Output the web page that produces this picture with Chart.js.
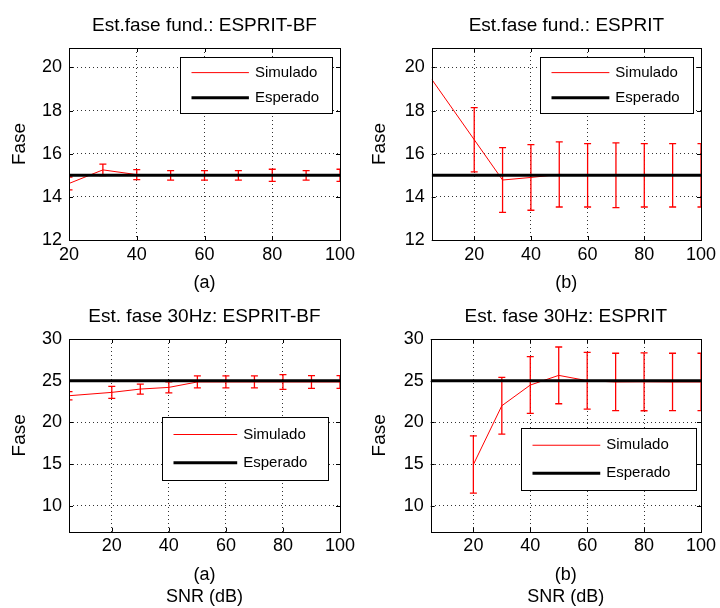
<!DOCTYPE html>
<html>
<head>
<meta charset="utf-8">
<script src="https://cdn.jsdelivr.net/npm/chart.js@4.4.0/dist/chart.umd.min.js"></script>
<style>
  html, body { margin: 0; padding: 0; background: #fff; }
  #fig { position: relative; width: 720px; height: 608px; }
  #fig canvas { position: absolute; }
</style>
</head>
<body>
<div id="fig">
  <canvas id="c1" width="360" height="300" style="left:0;top:0"></canvas>
  <canvas id="c2" width="360" height="300" style="left:360px;top:0"></canvas>
  <canvas id="c3" width="360" height="308" style="left:0;top:300px"></canvas>
  <canvas id="c4" width="360" height="308" style="left:360px;top:300px"></canvas>
</div>
<script>
// SNR values (dB)
const snrBF = [20, 30, 40, 50, 60, 70, 80, 90, 100];
const snrAll = [5, 20, 30, 40, 50, 60, 70, 80, 90, 100];

// fundamental phase, ESPRIT-BF (a)
const faseFundBF = [14.62, 15.25, 15.03, 15.0, 15.0, 15.0, 15.0, 15.0, 15.0];
const errFundBF = [0.3, 0.27, 0.23, 0.22, 0.22, 0.22, 0.28, 0.22, 0.28];
const esperadoFundBF = [15, 15, 15, 15, 15, 15, 15, 15, 15];

// fundamental phase, ESPRIT (b)
const faseFundES = [19.45, 16.65, 14.78, 14.9, 15.04, 15.0, 15.0, 15.0, 15.0, 15.0];
const errFundES = [null, 1.49, 1.5, 1.52, 1.51, 1.47, 1.5, 1.47, 1.47, 1.47];
const esperadoFundES = [15, 15, 15, 15, 15, 15, 15, 15, 15, 15];

// 30 Hz phase, ESPRIT-BF (a)
const fase30BF = [23.2, 23.6, 24.0, 24.2, 24.85, 24.85, 24.85, 24.85, 24.85, 24.85];
const err30BF = [0.5, 0.72, 0.6, 0.65, 0.72, 0.72, 0.72, 0.88, 0.76, 0.76];
const esperado30BF = [25, 25, 25, 25, 25, 25, 25, 25, 25, 25];

// 30 Hz phase, ESPRIT (b)
const fase30ES = [null, 14.95, 22.0, 24.48, 25.64, 25.0, 24.85, 24.87, 24.85, 24.85];
const err30ES = [null, 3.43, 3.4, 3.4, 3.4, 3.4, 3.44, 3.47, 3.44, 3.44];
const esperado30ES = [25, 25, 25, 25, 25, 25, 25, 25, 25, 25];

// tick labels
const xTicks = [20, 40, 60, 80, 100];
const yTicksFund = [12, 14, 16, 18, 20];
const yTicks30 = [10, 15, 20, 25, 30];

const legendLabels = ['Simulado', 'Esperado'];

Chart.defaults.font.family = "'Liberation Sans', Arial, sans-serif";
Chart.defaults.color = '#000';

const panels = [
  { id: 'c1', title: 'Est.fase fund.: ESPRIT-BF', xTitle: '(a)',
    snr: snrBF, fase: faseFundBF, err: errFundBF, esperado: esperadoFundBF,
    xMin: 20, xMax: 100, yMin: 12, yMax: 20.9, yTicks: yTicksFund,
    yAxisW: 69, padRight: 20, topH: 48, titleTop: 14.2, xAxisH: 60, xTitlePad: 6.2,
    legend: { right: 7.7, top: 8.7, w: 152, h: 56 } },
  { id: 'c2', title: 'Est.fase fund.: ESPRIT', xTitle: '(b)',
    snr: snrAll, fase: faseFundES, err: errFundES, esperado: esperadoFundES,
    xMin: 5, xMax: 100, yMin: 12, yMax: 20.9, yTicks: yTicksFund,
    yAxisW: 71.7, padRight: 16.7, topH: 48, titleTop: 14.2, xAxisH: 60, xTitlePad: 6.2,
    legend: { right: 8.3, top: 8.7, w: 153, h: 56 } },
  { id: 'c3', title: 'Est. fase 30Hz: ESPRIT-BF', xTitle: ['(a)', 'SNR (dB)'],
    snr: snrAll, fase: fase30BF, err: err30BF, esperado: esperado30BF,
    xMin: 5, xMax: 100, yMin: 6.9, yMax: 30, yTicks: yTicks30,
    yAxisW: 69, padRight: 20, topH: 39, titleTop: 5.6, xAxisH: 76.3, xTitlePad: 0.5,
    legend: { right: 11.7, top: 78.3, w: 166, h: 63 } },
  { id: 'c4', title: 'Est. fase 30Hz: ESPRIT', xTitle: ['(b)', 'SNR (dB)'],
    snr: snrAll, fase: fase30ES, err: err30ES, esperado: esperado30ES,
    xMin: 5, xMax: 100, yMin: 6.9, yMax: 30, yTicks: yTicks30,
    yAxisW: 70.7, padRight: 16.7, topH: 39, titleTop: 5.6, xAxisH: 76.3, xTitlePad: 0.5,
    legend: { right: 5, top: 88.7, w: 175, h: 62 } }
];

// vertical error bars with caps, drawn right after the red series
const errorBarPlugin = {
  id: 'errorBars',
  afterDatasetDraw(chart, args) {
    const ds = chart.data.datasets[args.index];
    if (!ds.errorHalf) return;
    const { ctx, chartArea: a } = chart;
    const x = chart.scales.x, y = chart.scales.y;
    ctx.save();
    ctx.beginPath();
    ctx.rect(a.left, a.top, a.width, a.height);
    ctx.clip();
    ctx.strokeStyle = ds.borderColor;
    ctx.lineWidth = 1.3;
    ds.data.forEach((p, i) => {
      const e = ds.errorHalf[i];
      if (p.y == null || e == null) return;
      const px = x.getPixelForValue(p.x);
      const top = y.getPixelForValue(p.y + e);
      const bot = y.getPixelForValue(p.y - e);
      ctx.beginPath();
      ctx.moveTo(px, top); ctx.lineTo(px, bot);
      ctx.moveTo(px - 3.5, top); ctx.lineTo(px + 3.5, top);
      ctx.moveTo(px - 3.5, bot); ctx.lineTo(px + 3.5, bot);
      ctx.stroke();
    });
    ctx.restore();
  }
};

// axes box with inward tick marks, plus the boxed legend
const boxLegendPlugin = {
  id: 'boxLegend',
  afterDraw(chart, args, opts) {
    const { ctx, chartArea: a } = chart;
    const x = chart.scales.x, y = chart.scales.y;
    ctx.save();
    ctx.strokeStyle = '#000';
    ctx.lineWidth = 1;
    ctx.strokeRect(Math.round(a.left) + 0.5, Math.round(a.top) + 0.5,
                   Math.round(a.width), Math.round(a.height));
    ctx.beginPath();
    x.ticks.forEach(t => {
      const px = Math.round(x.getPixelForValue(t.value)) + 0.5;
      ctx.moveTo(px, a.bottom); ctx.lineTo(px, a.bottom - 4);
      ctx.moveTo(px, a.top); ctx.lineTo(px, a.top + 4);
    });
    y.ticks.forEach(t => {
      const py = Math.round(y.getPixelForValue(t.value)) + 0.5;
      ctx.moveTo(a.left, py); ctx.lineTo(a.left + 4, py);
      ctx.moveTo(a.right, py); ctx.lineTo(a.right - 4, py);
    });
    ctx.stroke();

    const L = opts;
    const bx = Math.round(a.right - L.right - L.w) + 0.5;
    const by = Math.round(a.top + L.top) + 0.5;
    ctx.fillStyle = '#fff';
    ctx.fillRect(bx, by, L.w, L.h);
    ctx.strokeRect(bx, by, L.w, L.h);
    const lineEnd = bx + L.w * 0.45;
    ctx.font = "15px 'Liberation Sans', Arial, sans-serif";
    ctx.textBaseline = 'middle';
    ctx.textAlign = 'left';
    chart.data.datasets.forEach((ds, i) => {
      const ry = by + L.h * (i === 0 ? 0.27 : 0.72);
      ctx.strokeStyle = ds.borderColor;
      ctx.lineWidth = ds.borderWidth;
      ctx.beginPath();
      ctx.moveTo(bx + 11, ry); ctx.lineTo(lineEnd, ry);
      ctx.stroke();
      ctx.fillStyle = '#000';
      ctx.fillText(ds.label, lineEnd + 6, ry);
    });
    ctx.restore();
  }
};

function gridColor(scaleMin, scaleMax) {
  return c => (c.tick && (c.tick.value === scaleMin || c.tick.value === scaleMax)) ? 'rgba(0,0,0,0)' : '#333';
}

panels.forEach(p => {
  new Chart(document.getElementById(p.id), {
    type: 'line',
    data: {
      datasets: [
        {
          label: legendLabels[0],
          data: p.snr.map((s, i) => ({ x: s, y: p.fase[i] })),
          errorHalf: p.err,
          borderColor: '#ff0000',
          borderWidth: 1,
          pointRadius: 0,
          tension: 0,
          order: 2
        },
        {
          label: legendLabels[1],
          data: p.snr.map((s, i) => ({ x: s, y: p.esperado[i] })),
          borderColor: '#000000',
          borderWidth: 3,
          pointRadius: 0,
          tension: 0,
          order: 1
        }
      ]
    },
    options: {
      responsive: false,
      animation: false,
      devicePixelRatio: 1,
      layout: { padding: { left: 0, right: p.padRight, top: 0, bottom: 0 } },
      scales: {
        x: {
          type: 'linear',
          min: p.xMin,
          max: p.xMax,
          afterBuildTicks: s => { s.ticks = xTicks.map(v => ({ value: v })); },
          afterFit: s => { s.height = p.xAxisH; },
          ticks: { font: { size: 18 }, padding: 4, maxRotation: 0, autoSkip: false },
          grid: { color: gridColor(p.xMin, p.xMax), lineWidth: 1, drawTicks: false, borderDash: [1, 3] },
          border: { display: false, dash: [1, 3] },
          title: { display: true, text: p.xTitle, font: { size: 18 }, padding: { top: 0, bottom: p.xTitlePad } }
        },
        // top axis only carries the panel title, centred over the plot box
        xTop: {
          type: 'linear',
          position: 'top',
          min: p.xMin,
          max: p.xMax,
          afterFit: s => { s.height = p.topH; },
          ticks: { display: false },
          grid: { display: false, drawTicks: false },
          border: { display: false },
          title: { display: true, text: p.title, font: { size: 19 }, padding: { top: p.titleTop, bottom: 0 } }
        },
        y: {
          type: 'linear',
          min: p.yMin,
          max: p.yMax,
          afterBuildTicks: s => { s.ticks = p.yTicks.map(v => ({ value: v })); },
          afterFit: s => { s.width = p.yAxisW; },
          ticks: { font: { size: 18 }, padding: 7, autoSkip: false },
          grid: { color: gridColor(p.yMin, p.yMax), lineWidth: 1, drawTicks: false, borderDash: [1, 3] },
          border: { display: false, dash: [1, 3] },
          title: { display: true, text: 'Fase', font: { size: 19 }, padding: { top: 8.6, bottom: 0 } }
        }
      },
      plugins: {
        legend: { display: false },
        tooltip: { enabled: false },
        title: { display: false },
        boxLegend: p.legend
      }
    },
    plugins: [errorBarPlugin, boxLegendPlugin]
  });
});
</script>
</body>
</html>
